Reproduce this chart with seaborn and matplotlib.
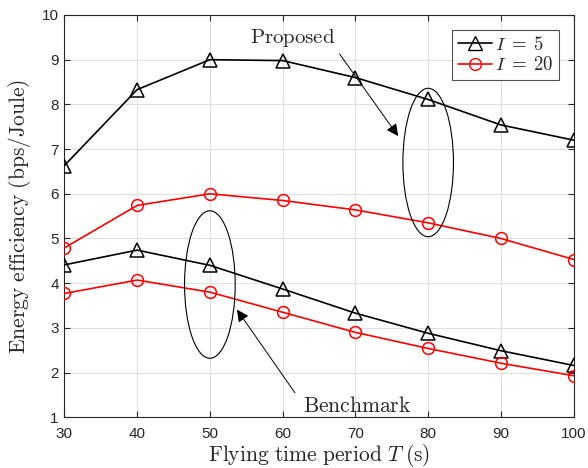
import matplotlib
matplotlib.use("Agg")
import matplotlib.pyplot as plt
import seaborn as sns
import pandas as pd
from matplotlib.patches import Ellipse

# flying time period T (s)
T = [30, 40, 50, 60, 70, 80, 90, 100]

prop_I5 = [6.63, 8.33, 9.00, 8.98, 8.60, 8.11, 7.54, 7.20]
prop_I20 = [4.79, 5.74, 6.00, 5.85, 5.64, 5.35, 5.00, 4.53]
bench_I5 = [4.41, 4.74, 4.40, 3.87, 3.33, 2.88, 2.49, 2.16]
bench_I20 = [3.77, 4.07, 3.80, 3.35, 2.90, 2.54, 2.21, 1.93]

xticks = [30, 40, 50, 60, 70, 80, 90, 100]
yticks = [1, 2, 3, 4, 5, 6, 7, 8, 9, 10]

sns.set_style("ticks")
plt.rcParams['font.family'] = ['Liberation Sans', 'DejaVu Sans']
plt.rcParams['mathtext.fontset'] = 'cm'

fig = plt.figure(figsize=(5.88, 4.68), dpi=100)
ax = fig.add_axes([0.1094, 0.1083, 0.8663, 0.8597])

rows = []
for lab, vals in [("p5", prop_I5), ("p20", prop_I20), ("b5", bench_I5), ("b20", bench_I20)]:
    for t, v in zip(T, vals):
        rows.append({"T": t, "ee": v, "curve": lab})
df = pd.DataFrame(rows)

styles = {
    "p5": dict(color="black", marker="^", ms=10),
    "p20": dict(color="red", marker="o", ms=8.5),
    "b5": dict(color="black", marker="^", ms=10),
    "b20": dict(color="red", marker="o", ms=8.5),
}
for lab, st in styles.items():
    sns.lineplot(data=df[df.curve == lab], x="T", y="ee", ax=ax,
                 color=st["color"], marker=st["marker"], markersize=st["ms"],
                 markerfacecolor="none", markeredgecolor=st["color"],
                 markeredgewidth=1.1, linewidth=1.2, zorder=3)

ax.set_xlim(30, 100)
ax.set_ylim(1, 10)
ax.set_xticks(xticks)
ax.set_yticks(yticks)
ax.grid(True, color="#e0e0e0", lw=0.8)
ax.tick_params(direction="in", top=True, right=True, labelsize=11, colors="#262626", length=4)
ax.tick_params(axis="x", pad=7)
ax.tick_params(axis="y", pad=4)
for s in ax.spines.values():
    s.set_color("#262626")
    s.set_linewidth(0.8)

ax.set_xlabel(r"$\mathrm{Flying\ time\ period\ }T\;\mathrm{(s)}$", fontsize=15.5, color="#262626", labelpad=1)
ax.set_ylabel(r"$\mathrm{Energy\ efficiency\ (bps/Joule)}$", fontsize=15.5, color="#262626", labelpad=6)

# ellipses and annotations
ax.add_patch(Ellipse((80, 6.70), 6.95, 3.32, fill=False, ec="black", lw=0.8, zorder=4))
ax.add_patch(Ellipse((50, 3.97), 6.96, 3.30, fill=False, ec="black", lw=0.8, zorder=4))

ax.annotate("", xy=(76.1, 7.24), xytext=(67.6, 9.18),
            arrowprops=dict(arrowstyle="-|>", color="black", lw=0.7, mutation_scale=18))
ax.text(61.4, 9.49, r"$\mathrm{Proposed}$", fontsize=15, ha="center", va="center")
ax.annotate("", xy=(53.5, 3.46), xytext=(61.9, 1.50),
            arrowprops=dict(arrowstyle="-|>", color="black", lw=0.7, mutation_scale=18))
ax.text(70.2, 1.24, r"$\mathrm{Benchmark}$", fontsize=15.5, ha="center", va="center")

h1, = ax.plot([], [], color="black", marker="^", markersize=10, markerfacecolor="none", lw=1.2)
h2, = ax.plot([], [], color="red", marker="o", markersize=8.5, markerfacecolor="none", lw=1.2)
leg = ax.legend([h1, h2], [r"$I\;=\;5$", r"$I\;=\;20$"], loc="upper right",
                fontsize=13.5, frameon=True, fancybox=False, edgecolor="#262626",
                handlelength=1.8, handletextpad=0.15, borderpad=0.3, labelspacing=0.15,
                borderaxespad=0.8)
leg.get_frame().set_linewidth(0.8)

fig.savefig("out.png", dpi=100)
